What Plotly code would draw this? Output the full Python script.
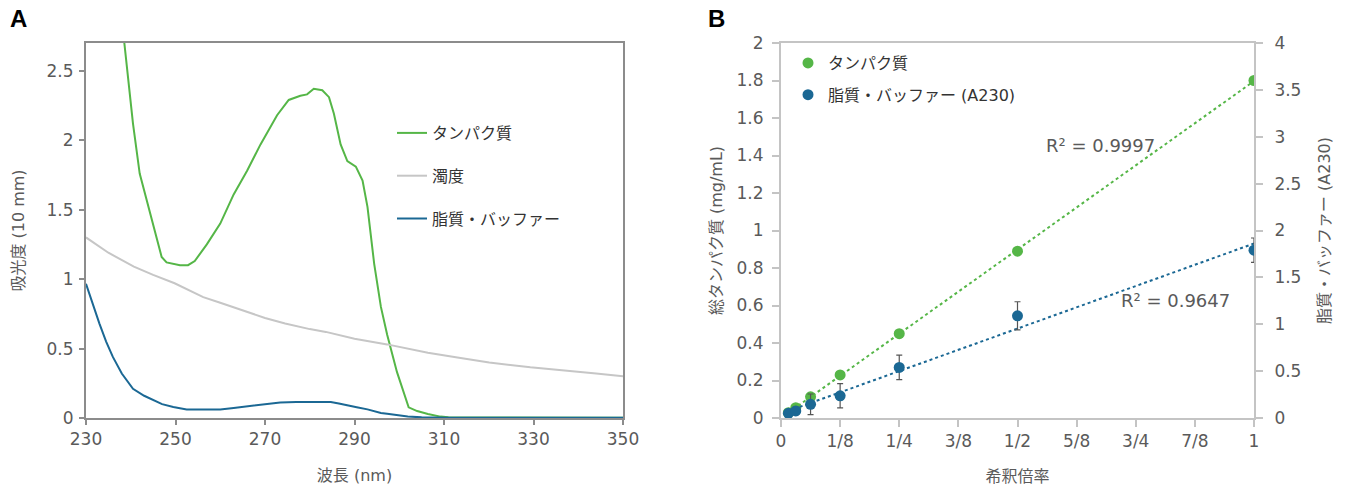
import numpy as np
import plotly.graph_objects as go

# ---------------- Panel A data ----------------
protein_wl = [238.4, 240.5, 242.0, 244.2, 246.9, 248.0, 251.0, 252.8, 254.3, 257.0, 260.0, 263.0,
              266.0, 269.0, 272.7, 275.3, 277.9, 279.4, 280.9, 282.8, 284.3, 285.4, 286.9, 288.4,
              290.3, 291.8, 292.9, 294.4, 295.9, 297.3, 299.5, 302.1, 304.0, 306.4, 309.2, 311.0, 330.0, 350.0]
protein_abs = [2.75, 2.12, 1.76, 1.49, 1.16, 1.12, 1.10, 1.10, 1.13, 1.25, 1.40, 1.61,
               1.78, 1.97, 2.18, 2.29, 2.32, 2.33, 2.37, 2.36, 2.31, 2.19, 1.97, 1.85,
               1.81, 1.71, 1.52, 1.11, 0.80, 0.60, 0.33, 0.077, 0.05, 0.029, 0.01, 0.005, 0.003, 0.002]

turb_wl = [230, 235, 240.7, 245, 249.8, 256.2, 260, 265.3, 270, 274.5, 280, 283.6, 290, 297.3,
           306.4, 313, 320.1, 329.3, 338.4, 344, 350]
turb_abs = [1.30, 1.19, 1.09, 1.03, 0.97, 0.87, 0.83, 0.77, 0.72, 0.68, 0.64, 0.62, 0.57, 0.53,
            0.47, 0.435, 0.40, 0.365, 0.34, 0.32, 0.30]

lipid_wl = [230, 231.5, 233, 234.5, 236, 238, 240.5, 243, 245, 247, 249.5, 252.5, 256, 260, 263, 266,
            270, 273.4, 277, 280.9, 284.7, 286.5, 288.4, 290.5, 292.9, 295.9, 297.3, 299.5, 301.9, 305,
            311, 330, 350]
lipid_abs = [0.966, 0.82, 0.68, 0.55, 0.44, 0.32, 0.21, 0.16, 0.127, 0.10, 0.079, 0.062, 0.062,
             0.062, 0.072, 0.084, 0.10, 0.112, 0.115, 0.115, 0.115, 0.105, 0.09, 0.078, 0.062, 0.036,
             0.03, 0.018, 0.01, 0.005, 0.002, 0.001, 0.001]

# ---------------- Panel B data ----------------
dilution = [1/64, 1/32, 1/16, 1/8, 1/4, 1/2, 1]
protein_conc = [0.028, 0.055, 0.113, 0.23, 0.45, 0.89, 1.80]
protein_err = [0.005, 0.008, 0.012, 0.008, 0.008, 0.01, 0.01]
lipid_a230 = [0.05, 0.075, 0.146, 0.237, 0.54, 1.09, 1.79]
lipid_err = [0.02, 0.04, 0.11, 0.13, 0.13, 0.15, 0.13]

x_tickvals = [0, 1/8, 1/4, 3/8, 1/2, 5/8, 3/4, 7/8, 1]
x_ticktext = ["0", "1/8", "1/4", "3/8", "1/2", "5/8", "3/4", "7/8", "1"]
r2_protein = "R² = 0.9997"
r2_lipid = "R² = 0.9647"

GREEN = "#55b647"
BLUE = "#1b6894"
GRAY = "#c6c6c6"
TXT = "#5a5a5a"
FONT = "DejaVu Sans, Noto Sans CJK JP, sans-serif"

fig = go.Figure()

# Panel A
fig.add_trace(go.Scatter(x=protein_wl, y=protein_abs, mode="lines", name="タンパク質",
                         line=dict(color=GREEN, width=2), legend="legend", legendgroup="a1",
                         xaxis="x", yaxis="y"))
fig.add_trace(go.Scatter(x=turb_wl, y=turb_abs, mode="lines", name="濁度",
                         line=dict(color=GRAY, width=2), legend="legend", legendgroup="a2",
                         xaxis="x", yaxis="y"))
fig.add_trace(go.Scatter(x=lipid_wl, y=lipid_abs, mode="lines", name="脂質・バッファー",
                         line=dict(color=BLUE, width=2), legend="legend", legendgroup="a3",
                         xaxis="x", yaxis="y"))

# Panel B trendlines
xd = np.array(dilution)
pp = np.polyfit(xd, protein_conc, 1)
pl = np.polyfit(xd, lipid_a230, 1)
xt = np.array([xd.min(), xd.max()])
fig.add_trace(go.Scatter(x=xt, y=np.polyval(pp, xt), mode="lines", showlegend=False,
                         line=dict(color=GREEN, width=2, dash="dot"), xaxis="x2", yaxis="y2",
                         hoverinfo="skip"))
fig.add_trace(go.Scatter(x=xt, y=np.polyval(pl, xt), mode="lines", showlegend=False,
                         line=dict(color=BLUE, width=2, dash="dot"), xaxis="x2", yaxis="y3",
                         hoverinfo="skip"))

# Panel B points
fig.add_trace(go.Scatter(x=dilution, y=protein_conc, mode="markers", name="タンパク質",
                         marker=dict(color=GREEN, size=11),
                         error_y=dict(type="data", array=protein_err, color="#555555", thickness=1.2, width=3),
                         legend="legend2", legendgroup="b1", xaxis="x2", yaxis="y2"))
fig.add_trace(go.Scatter(x=dilution, y=lipid_a230, mode="markers", name="脂質・バッファー (A230)",
                         marker=dict(color=BLUE, size=11),
                         error_y=dict(type="data", array=lipid_err, color="#555555", thickness=1.2, width=3),
                         legend="legend2", legendgroup="b2", xaxis="x2", yaxis="y3"))

ML, MR, MT, MB = 86, 94, 43, 70
W, H = 1348, 488
PW = W - ML - MR
PH = H - MT - MB


def px2x(px):
    return (px - ML) / PW


def px2y(py):
    return (H - MB - py) / PH


axA = dict(showline=True, linecolor="#8c8c8c", linewidth=2, mirror=True, ticks="outside",
           tickcolor="#8c8c8c", tickwidth=2, ticklen=5, showgrid=False, zeroline=False, automargin=False,
           tickfont=dict(size=17, color=TXT, family=FONT))
axB = dict(showline=True, linecolor="#c4c4c4", linewidth=2, ticks="outside", automargin=False,
           tickcolor="#c4c4c4", tickwidth=2, ticklen=7, showgrid=False, zeroline=False,
           tickfont=dict(size=17, color=TXT, family=FONT))

fig.update_layout(
    width=W, height=H,
    margin=dict(l=ML, r=MR, t=MT, b=MB, pad=0, autoexpand=False),
    paper_bgcolor="white", plot_bgcolor="white",
    font=dict(family=FONT, color=TXT, size=16),
    xaxis=dict(domain=[0, px2x(623)], range=[230, 350], tickvals=[230, 250, 270, 290, 310, 330, 350],
               title=dict(text="波長 (nm)", font=dict(size=16, color=TXT), standoff=21), anchor="y", **axA),
    yaxis=dict(domain=[0, 1], range=[0, 2.7], tickvals=[0, 0.5, 1, 1.5, 2, 2.5],
               ticktext=["0", "0.5", "1", "1.5", "2", "2.5"], ticklabelstandoff=2,
               title=dict(text="吸光度 (10 mm)", font=dict(size=16, color=TXT), standoff=18), anchor="x", **axA),
    xaxis2=dict(domain=[px2x(781), 1], range=[0, 1], tickvals=x_tickvals, ticktext=x_ticktext,
                mirror=True, title=dict(text="希釈倍率", font=dict(size=16, color=TXT), standoff=20),
                anchor="y2", **axB),
    yaxis2=dict(domain=[0, 1], range=[0, 2], tickvals=[0, 0.2, 0.4, 0.6, 0.8, 1, 1.2, 1.4, 1.6, 1.8, 2],
                ticktext=["0", "0.2", "0.4", "0.6", "0.8", "1", "1.2", "1.4", "1.6", "1.8", "2"],
                ticklabelstandoff=5,
                title=dict(text="総タンパク質 (mg/mL)", font=dict(size=16, color=TXT), standoff=10),
                anchor="x2", **axB),
    yaxis3=dict(range=[0, 4], overlaying="y2", side="right", anchor="x2",
                tickvals=[0, 0.5, 1, 1.5, 2, 2.5, 3, 3.5, 4],
                ticktext=["0", "0.5", "1", "1.5", "2", "2.5", "3", "3.5", "4"],
                ticklabelstandoff=8,
                title=dict(text="脂質・バッファー (A230)", font=dict(size=16, color=TXT), standoff=18),
                **axB),
    legend=dict(x=px2x(392), y=px2y(116), xanchor="left", yanchor="top", bgcolor="rgba(0,0,0,0)",
                font=dict(size=16, color="#333333", family=FONT), tracegroupgap=19, itemwidth=30),
    legend2=dict(x=px2x(788), y=px2y(46), xanchor="left", yanchor="top", bgcolor="rgba(0,0,0,0)",
                 font=dict(size=16, color="#333333", family=FONT), tracegroupgap=8, itemwidth=30),
    showlegend=True,
    annotations=[
        dict(text="<b>A</b>", x=px2x(18), y=px2y(18), xref="paper", yref="paper", showarrow=False,
             xanchor="center", yanchor="middle",
             font=dict(size=24, color="black", family="Liberation Sans, Arial")),
        dict(text="<b>B</b>", x=px2x(716), y=px2y(18), xref="paper", yref="paper", showarrow=False,
             xanchor="center", yanchor="middle",
             font=dict(size=24, color="black", family="Liberation Sans, Arial")),
        dict(text=r2_protein, x=0.675, y=1.452, xref="x2", yref="y2", showarrow=False,
             font=dict(size=18, color=TXT, family=FONT)),
        dict(text=r2_lipid, x=0.833, y=0.628, xref="x2", yref="y2", showarrow=False,
             font=dict(size=18, color=TXT, family=FONT)),
    ],
)

fig.write_html("out.html", config={"displayModeBar": False},
               post_script="document.body.style.margin='0';")
